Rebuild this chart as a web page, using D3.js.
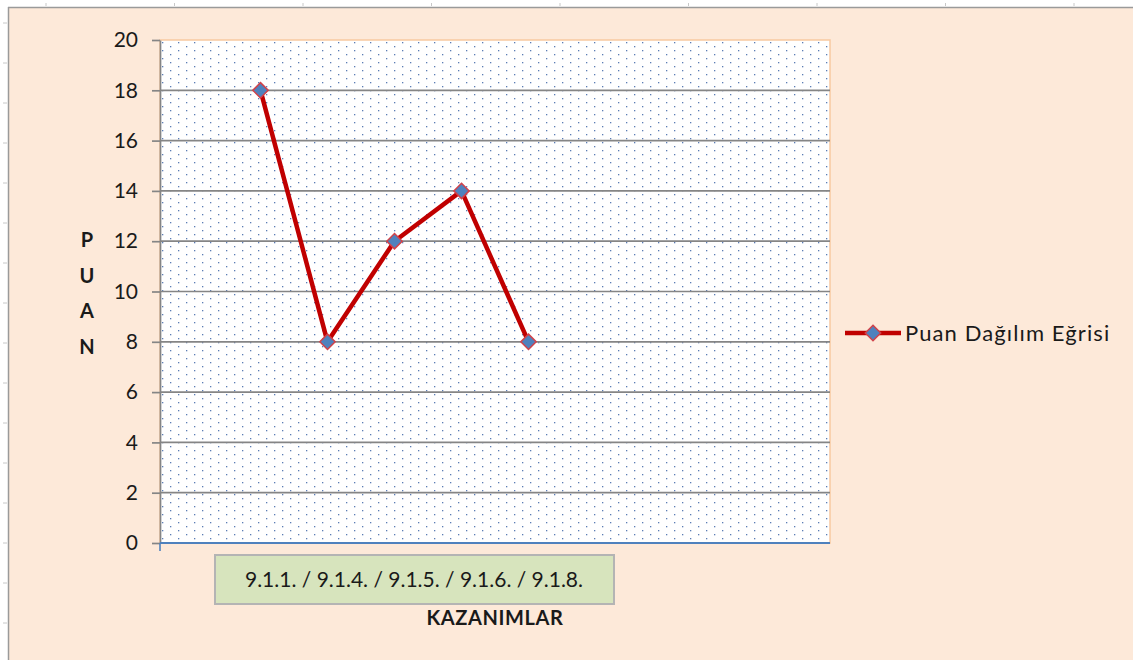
<!DOCTYPE html>
<html>
<head>
<meta charset="utf-8">
<script src="https://cdn.jsdelivr.net/npm/d3@7"></script>
<style>
  html, body { margin: 0; padding: 0; background: #ffffff; }
</style>
</head>
<body>
<div id="chart"></div>
<script>
// data
const kazanimlar = ["9.1.1.", "9.1.4.", "9.1.5.", "9.1.6.", "9.1.8."];
const puanlar = [18, 8, 12, 14, 8];
const yTicks = [0, 2, 4, 6, 8, 10, 12, 14, 16, 18, 20];
const slotCount = 10;          // excel category slots on the axis, data sits in slots 1..5
const seriesName = "Puan Dağılım Eğrisi";
const xTitle = "KAZANIMLAR";
const yTitle = ["P", "U", "A", "N"];

const width = 1133, height = 660;
const plot = { left: 160, right: 830, top: 40, bottom: 543 };
const font = "Lato, 'Open Sans', sans-serif";

const svg = d3.select("#chart").append("svg")
  .attr("width", width)
  .attr("height", height);

// pattern for the dotted plot area
const defs = svg.append("defs");
const pat = defs.append("pattern")
  .attr("id", "dots")
  .attr("patternUnits", "userSpaceOnUse")
  .attr("width", 16).attr("height", 8);
pat.append("rect").attr("width", 16).attr("height", 8).attr("fill", "#ffffff");
pat.append("rect").attr("x", 2).attr("y", 2).attr("width", 1.3).attr("height", 1.3).attr("fill", "#5b7db5");
pat.append("rect").attr("x", 10).attr("y", 6).attr("width", 1.3).attr("height", 1.3).attr("fill", "#5b7db5");

// spreadsheet edge around the chart object
svg.append("rect").attr("width", width).attr("height", height).attr("fill", "#ffffff");
svg.append("rect")
  .attr("x", 8).attr("y", 7)
  .attr("width", width - 8).attr("height", height - 7)
  .attr("fill", "#fde9d9");
svg.append("line").attr("x1", 8).attr("x2", width).attr("y1", 7.5).attr("y2", 7.5)
  .attr("stroke", "#9a9a9a").attr("stroke-width", 1.5);
svg.append("line").attr("x1", 8.5).attr("x2", 8.5).attr("y1", 7).attr("y2", height)
  .attr("stroke", "#9a9a9a").attr("stroke-width", 1.5);
svg.append("g").selectAll("line")
  .data(d3.range(46, width, 128.5))
  .enter().append("line")
  .attr("x1", d => d).attr("x2", d => d).attr("y1", 3).attr("y2", 6)
  .attr("stroke", "#c8c8c8");
svg.append("g").selectAll("line")
  .data(d3.range(23, height, 40))
  .enter().append("line")
  .attr("y1", d => d).attr("y2", d => d).attr("x1", 3).attr("x2", 7)
  .attr("stroke", "#c8c8c8");

// scales
const x = d3.scaleBand()
  .domain(d3.range(slotCount))
  .range([plot.left, plot.right]);
const y = d3.scaleLinear()
  .domain([0, 20])
  .range([plot.bottom, plot.top]);

// plot area
svg.append("rect")
  .attr("x", plot.left).attr("y", plot.top)
  .attr("width", plot.right - plot.left).attr("height", plot.bottom - plot.top)
  .attr("fill", "url(#dots)")
  .attr("stroke", "#f8c9a0").attr("stroke-width", 1.5);

// horizontal gridlines (top edge stays the orange border)
svg.append("g").selectAll("line")
  .data(yTicks.filter(d => d > 0 && d < 20))
  .enter().append("line")
  .attr("x1", plot.left).attr("x2", plot.right)
  .attr("y1", d => y(d)).attr("y2", d => y(d))
  .attr("stroke", "#858585").attr("stroke-width", 1.7);

// y axis
const yAxis = svg.append("g")
  .attr("transform", `translate(${plot.left},0)`)
  .call(d3.axisLeft(y).tickValues(yTicks).tickSize(8).tickPadding(14).tickSizeOuter(0));
yAxis.select(".domain").attr("stroke", "#858585").attr("stroke-width", 1.7);
yAxis.selectAll(".tick line").attr("stroke", "#858585").attr("stroke-width", 1.7);
yAxis.selectAll(".tick text")
  .style("font-family", font).style("font-size", "21px").attr("fill", "#1a1a1a");

// x axis (blue baseline)
svg.append("line")
  .attr("x1", plot.left).attr("x2", plot.right)
  .attr("y1", y(0)).attr("y2", y(0))
  .attr("stroke", "#4f81bd").attr("stroke-width", 2);
svg.append("line")
  .attr("x1", plot.left).attr("x2", plot.left)
  .attr("y1", y(0)).attr("y2", y(0) + 8)
  .attr("stroke", "#4f81bd").attr("stroke-width", 1.6);

// series
const points = kazanimlar.map((k, i) => ({ k: k, v: puanlar[i], slot: i + 1 }));
const px = d => x(d.slot) + x.bandwidth() / 2;

svg.append("path")
  .datum(points)
  .attr("d", d3.line().x(px).y(d => y(d.v)))
  .attr("fill", "none")
  .attr("stroke", "#c00000")
  .attr("stroke-width", 4.5)
  .attr("stroke-linejoin", "round");

const diamond = d3.symbol().type(d3.symbolDiamond2).size(150);
svg.append("g").selectAll("path")
  .data(points)
  .enter().append("path")
  .attr("d", diamond)
  .attr("transform", d => `translate(${px(d)},${y(d.v)})`)
  .attr("fill", "#4f81bd")
  .attr("stroke", "#d0424a")
  .attr("stroke-width", 1.5);

// category label box
const box = svg.append("g");
box.append("rect")
  .attr("x", 215).attr("y", 555)
  .attr("width", 399).attr("height", 49)
  .attr("fill", "#d7e4bd")
  .attr("stroke", "#b4b4b4").attr("stroke-width", 2);
box.append("text")
  .attr("x", 414).attr("y", 587)
  .attr("text-anchor", "middle")
  .style("font-family", font).style("font-size", "21px")
  .attr("fill", "#1a1a1a")
  .text(kazanimlar.join(" / "));

// axis titles
svg.append("text")
  .attr("x", 495).attr("y", 625)
  .attr("text-anchor", "middle")
  .style("font-family", font).style("font-size", "20px").style("font-weight", "bold")
  .style("letter-spacing", "0.6px")
  .attr("fill", "#1a1a1a")
  .text(xTitle);

svg.append("g").selectAll("text")
  .data(yTitle)
  .enter().append("text")
  .attr("x", 87).attr("y", (d, i) => 247 + i * 35.5)
  .attr("text-anchor", "middle")
  .style("font-family", font).style("font-size", "20px").style("font-weight", "bold")
  .attr("fill", "#1a1a1a")
  .text(d => d);

// legend
const leg = svg.append("g").attr("transform", "translate(845,333)");
leg.append("line").attr("x1", 0).attr("x2", 56).attr("y1", 0).attr("y2", 0)
  .attr("stroke", "#c00000").attr("stroke-width", 4.5);
leg.append("path").attr("d", diamond).attr("transform", "translate(28,0)")
  .attr("fill", "#4f81bd").attr("stroke", "#d0424a").attr("stroke-width", 1.5);
leg.append("text")
  .attr("x", 60).attr("y", 8)
  .style("font-family", font).style("font-size", "22px")
  .style("letter-spacing", "1.1px")
  .attr("fill", "#1a1a1a")
  .text(seriesName);
</script>
</body>
</html>
